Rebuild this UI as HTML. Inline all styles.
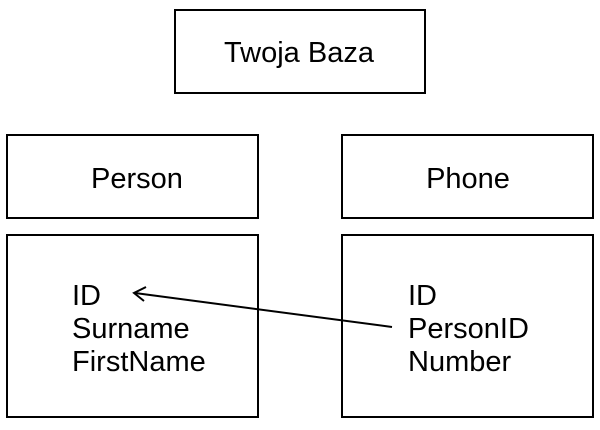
<!DOCTYPE html>
<html><head><meta charset="utf-8"><style>
html,body{margin:0;padding:0;background:#fff;}
svg{display:block;}
text{font-family:"Liberation Sans",Arial,sans-serif;font-size:29px;fill:#000;}
</style></head><body>
<svg width="600" height="430" viewBox="0 0 600 430" xmlns="http://www.w3.org/2000/svg">
<g fill="none" stroke="#000" stroke-width="2">
<rect x="175" y="10" width="250" height="83"/>
<rect x="7" y="135" width="251" height="83"/>
<rect x="342" y="135" width="251" height="83"/>
<rect x="7" y="235" width="251" height="182"/>
<rect x="342" y="235" width="251" height="182"/>
<line x1="392" y1="327" x2="135" y2="293"/>
<polyline points="146,287 134,293 144,301"/>
</g>
<text x="299" y="62" text-anchor="middle">Twoja Baza</text>
<text x="137" y="188" text-anchor="middle">Person</text>
<text x="468" y="188" text-anchor="middle">Phone</text>
<text x="72" y="305">ID</text>
<text x="72" y="338">Surname</text>
<text x="72" y="371">FirstName</text>
<text x="408" y="305">ID</text>
<text x="408" y="338">PersonID</text>
<text x="408" y="371">Number</text>
</svg>
</body></html>
